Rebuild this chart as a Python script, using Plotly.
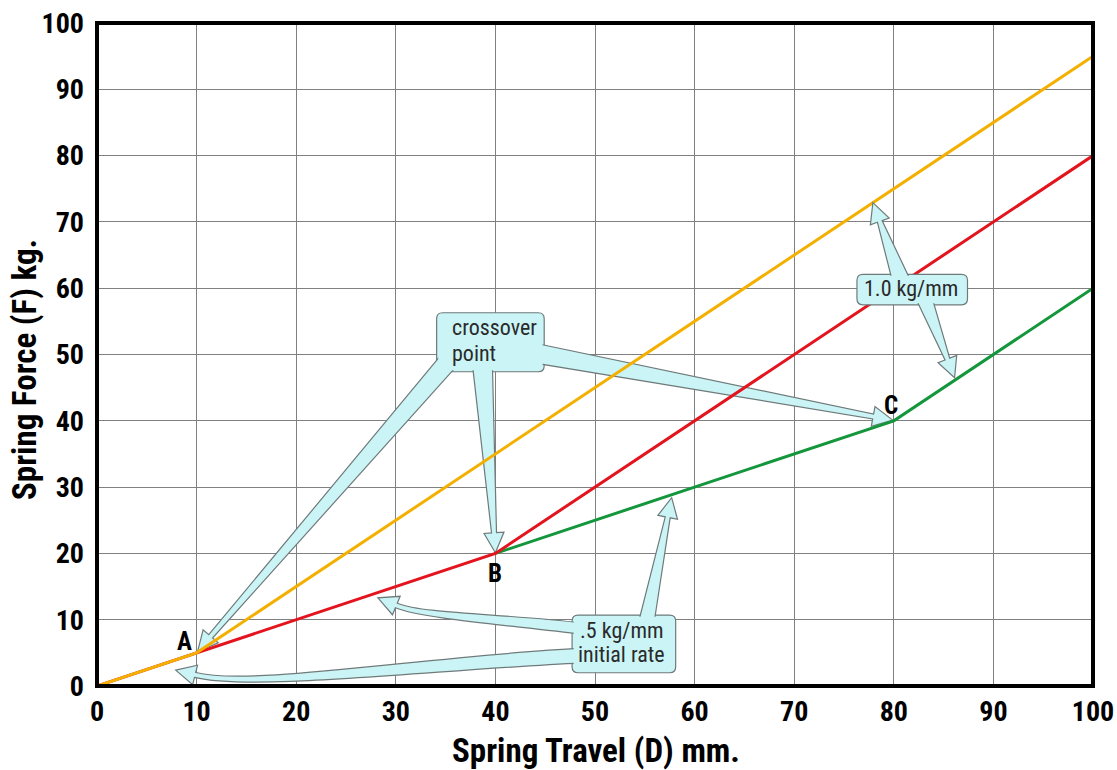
import math
import plotly.graph_objects as go

# ---------------- data ----------------
travel_yellow = [0, 10, 100]
force_yellow = [0, 5, 95]
travel_red = [0, 10, 40, 100]
force_red = [0, 5, 20, 80]
travel_green = [40, 80, 100]
force_green = [20, 40, 60]

point_names = ["A", "B", "C"]
point_name_x = [8.8, 40.0, 79.7]
point_name_y = [6.7, 16.9, 42.3]

tick_values = list(range(0, 101, 10))
tick_text = [str(v) for v in tick_values]

x_title = "Spring Travel (D) mm."
y_title = "Spring Force (F) kg."

# callout boxes (data coords: x0, y0, x1, y1)
crossover_box = (34.1, 47.4, 44.9, 56.3)
crossover_lines = ["crossover", "point"]
crossover_text_x = 35.4
crossover_text_y = [54.0, 50.2]
crossover_arrows = [
    dict(b1=(34.7, 50.2), b2=(36.2, 48.4), tip=(10.1, 5.2)),
    dict(b1=(37.7, 48.4), b2=(39.7, 48.4), tip=(40.0, 20.1)),
    dict(b1=(44.0, 51.7), b2=(44.0, 48.7), tip=(79.9, 40.1)),
]

rate1_box = (76.3, 57.5, 87.4, 62.1)
rate1_lines = ["1.0 kg/mm"]
rate1_text_x = 81.7
rate1_text_y = [59.9]
rate1_arrows = [
    dict(b1=(79.9, 60.8), b2=(81.8, 60.8), tip=(77.9, 72.9)),
    dict(b1=(82.1, 58.8), b2=(83.8, 58.8), tip=(86.1, 46.5)),
]

rate05_box = (47.7, 2.0, 58.1, 10.7)
rate05_lines = [".5 kg/mm", "initial rate"]
rate05_text_x = 52.7
rate05_text_y = [8.3, 4.8]
rate05_arrows = [
    dict(b1=(54.3, 9.2), b2=(55.9, 9.2), tip=(57.7, 28.4)),
    dict(b1=(48.7, 9.5), b2=(48.7, 7.8), tip=(28.2, 13.3), head=(-18, 7.5)),
    dict(b1=(48.7, 5.7), b2=(48.7, 3.5), tip=(7.9, 2.4), head=(-20, 5)),
]

# ---------------- layout geometry ----------------
W, H = 1117, 770
ML, MR, MT, MB = 97, 24, 23, 84
PW, PH = W - ML - MR, H - MT - MB
SX, SY = PW / 100.0, PH / 100.0

NARROW = "Liberation Sans Narrow, Arial Narrow, Roboto Condensed, DejaVu Sans Condensed, sans-serif"
FILL = "#cbf4f6"
EDGE = "#6f7a7a"


def to_s(p):
    return (p[0] * SX, p[1] * SY)


def to_d(p):
    return (p[0] / SX, p[1] / SY)


def fmt(p):
    d = to_d(p)
    return f"{d[0]:.3f},{d[1]:.3f}"


def norm(v):
    l = math.hypot(v[0], v[1])
    return (v[0] / l, v[1] / l), l


def wedge_path(b1, b2, tip, head=None, L=20, Wd=10, w=2.5):
    B1, B2, T = to_s(b1), to_s(b2), to_s(tip)
    bc = ((B1[0] + B2[0]) / 2, (B1[1] + B2[1]) / 2)
    if head is None:
        u, _ = norm((T[0] - bc[0], T[1] - bc[1]))
    else:
        u, _ = norm(head)
    N = (T[0] - L * u[0], T[1] - L * u[1])
    n = (-u[1], u[0])
    s = 1 if ((B1[0] - bc[0]) * n[0] + (B1[1] - bc[1]) * n[1]) > 0 else -1
    n1 = (N[0] + s * w * n[0], N[1] + s * w * n[1])
    h1 = (N[0] + s * Wd * n[0], N[1] + s * Wd * n[1])
    n2 = (N[0] - s * w * n[0], N[1] - s * w * n[1])
    h2 = (N[0] - s * Wd * n[0], N[1] - s * Wd * n[1])
    if head is None:
        return (f"M{fmt(B1)} L{fmt(n1)} L{fmt(h1)} L{fmt(T)} L{fmt(h2)} "
                f"L{fmt(n2)} L{fmt(B2)} Z")
    cd, cl = norm((N[0] - bc[0], N[1] - bc[1]))
    kb = 0.4 * cl
    kh = 0.15 * cl
    c1a = (B1[0] + cd[0] * kb, B1[1] + cd[1] * kb)
    c1b = (n1[0] - u[0] * kh, n1[1] - u[1] * kh)
    c2a = (B2[0] + cd[0] * kb, B2[1] + cd[1] * kb)
    c2b = (n2[0] - u[0] * kh, n2[1] - u[1] * kh)
    return (f"M{fmt(B1)} C{fmt(c1a)} {fmt(c1b)} {fmt(n1)} L{fmt(h1)} L{fmt(T)} "
            f"L{fmt(h2)} L{fmt(n2)} C{fmt(c2b)} {fmt(c2a)} {fmt(B2)} Z")


def rrect_path(box, r=6, inset=0.0):
    x0, y0 = to_s((box[0], box[1]))
    x1, y1 = to_s((box[2], box[3]))
    x0 += inset; y0 += inset; x1 -= inset; y1 -= inset
    r = max(r - inset, 0.5)
    pts = [
        ("M", (x0 + r, y0)), ("L", (x1 - r, y0)), ("Q", (x1, y0), (x1, y0 + r)),
        ("L", (x1, y1 - r)), ("Q", (x1, y1), (x1 - r, y1)), ("L", (x0 + r, y1)),
        ("Q", (x0, y1), (x0, y1 - r)), ("L", (x0, y0 + r)), ("Q", (x0, y0), (x0 + r, y0)),
    ]
    out = []
    for cmd in pts:
        out.append(cmd[0] + " ".join(fmt(p) for p in cmd[1:]))
    return " ".join(out) + " Z"


shapes = []
annotations = []


def add_callout(box, arrows, lines, tx, ty, anchor, layer):
    shapes.append(dict(type="path", path=rrect_path(box), xref="x", yref="y",
                       fillcolor=FILL, line=dict(color=EDGE, width=1.2), layer=layer))
    for a in arrows:
        shapes.append(dict(type="path", path=wedge_path(a["b1"], a["b2"], a["tip"], a.get("head")),
                           xref="x", yref="y", fillcolor=FILL,
                           line=dict(color=EDGE, width=1.2), layer=layer))
    shapes.append(dict(type="path", path=rrect_path(box, inset=1.6), xref="x", yref="y",
                       fillcolor=FILL, line=dict(width=0), layer=layer))
    for t, yy in zip(lines, ty):
        annotations.append(dict(x=tx, y=yy, xref="x", yref="y", text=t, showarrow=False,
                                xanchor=anchor, yanchor="middle",
                                font=dict(family=NARROW, size=22, color="#2a2a2a")))


add_callout(crossover_box, crossover_arrows, crossover_lines, crossover_text_x,
            crossover_text_y, "left", "between")
add_callout(rate05_box, rate05_arrows, rate05_lines, rate05_text_x,
            rate05_text_y, "center", "between")
add_callout(rate1_box, rate1_arrows, rate1_lines, rate1_text_x,
            rate1_text_y, "center", "above")

# frame
shapes.append(dict(type="rect", xref="paper", yref="paper", x0=0, y0=0, x1=1, y1=1,
                   line=dict(color="black", width=4), fillcolor="rgba(0,0,0,0)", layer="above"))

fig = go.Figure()
fig.add_trace(go.Scatter(x=travel_green, y=force_green, mode="lines",
                         line=dict(color="#14963c", width=3), showlegend=False))
fig.add_trace(go.Scatter(x=travel_red, y=force_red, mode="lines",
                         line=dict(color="#e3141e", width=3), showlegend=False))
fig.add_trace(go.Scatter(x=travel_yellow, y=force_yellow, mode="lines",
                         line=dict(color="#f4b000", width=3), showlegend=False))

for name, px, py in zip(point_names, point_name_x, point_name_y):
    annotations.append(dict(x=px, y=py, xref="x", yref="y", text=name, showarrow=False,
                            xanchor="center", yanchor="middle",
                            font=dict(family=NARROW, size=25, color="black", weight="bold")))

annotations.append(dict(x=(596 - ML) / PW, y=-(750 - (H - MB)) / PH, xref="paper", yref="paper",
                        text=x_title, showarrow=False, xanchor="center", yanchor="middle",
                        font=dict(family=NARROW, size=33, color="black", weight="bold")))
annotations.append(dict(x=(25 - ML) / PW, y=((H - MB) - 370) / PH, xref="paper", yref="paper",
                        text=y_title, showarrow=False, xanchor="center", yanchor="middle",
                        textangle=-90,
                        font=dict(family=NARROW, size=33, color="black", weight="bold")))

axis_common = dict(range=[0, 100], tickvals=tick_values, ticktext=tick_text,
                   showgrid=True, gridcolor="#808080", gridwidth=1, zeroline=False,
                   showline=False, ticks="", fixedrange=True,
                   tickfont=dict(family=NARROW, size=28, color="black", weight="bold"))

fig.update_layout(
    width=W, height=H,
    margin=dict(l=ML, r=MR, t=MT, b=MB, autoexpand=False),
    paper_bgcolor="white", plot_bgcolor="white",
    xaxis=dict(**axis_common, ticklabelstandoff=6),
    yaxis=dict(**axis_common, ticklabelstandoff=12),
    shapes=shapes, annotations=annotations,
)

fig.write_html("out.html", config={"displayModeBar": False},
               post_script="document.body.style.margin='0';document.body.style.overflow='hidden';")
